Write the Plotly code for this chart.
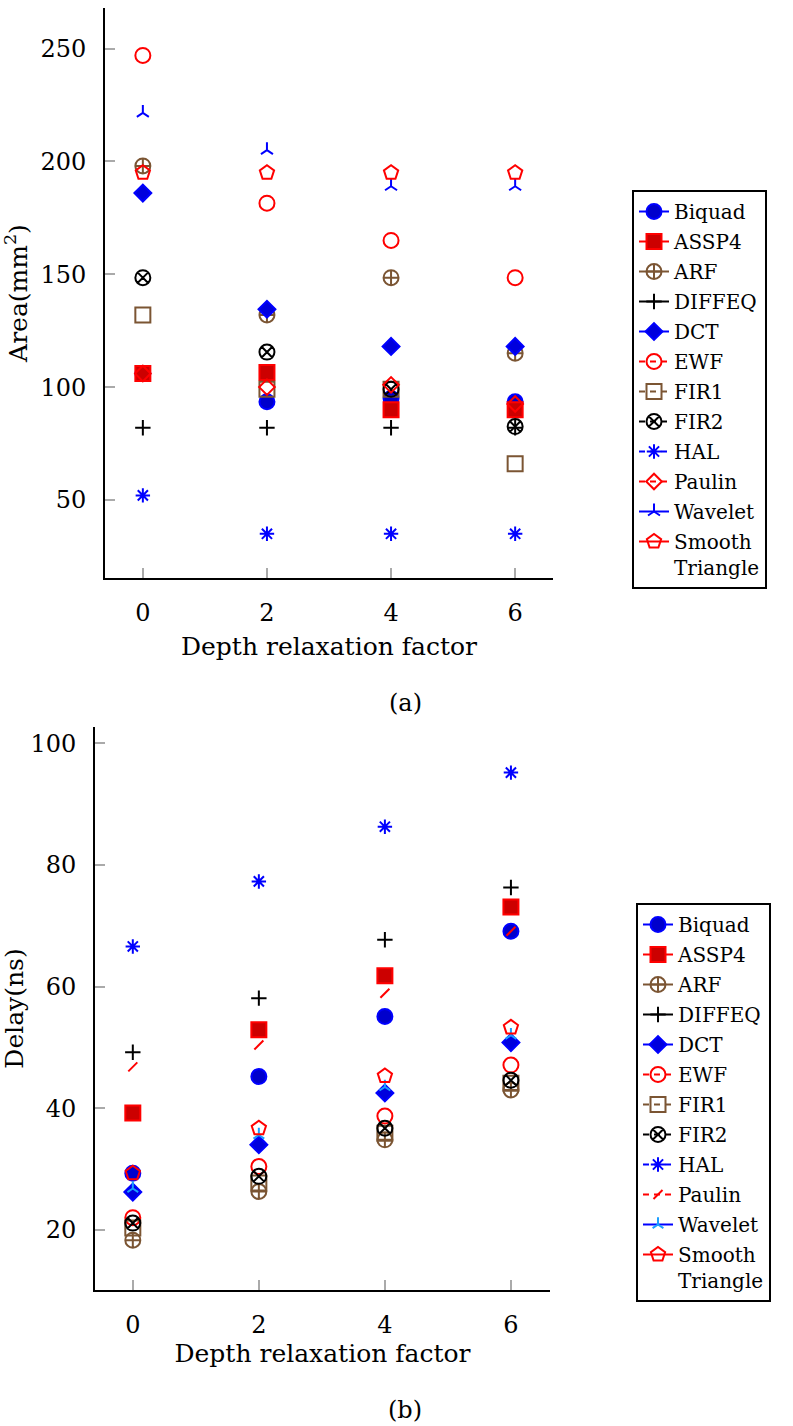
import plotly.graph_objects as go

depth = [0, 2, 4, 6]
series_names = ["Biquad", "ASSP4", "ARF", "DIFFEQ", "DCT", "EWF", "FIR1", "FIR2",
                "HAL", "Paulin", "Wavelet", "Smooth<br>Triangle"]

area_biquad = [106, 93.5, 95, 93.5]
area_assp4 = [106, 106.5, 90, 90]
area_arf = [198, 132, 148.5, 115]
area_diffeq = [82, 82, 82, 82]
area_dct = [186, 134.5, 118, 118]
area_ewf = [247, 181.5, 165, 148.5]
area_fir1 = [132, 99, 99, 66]
area_fir2 = [148.5, 115.5, 99, 82.5]
area_hal = [52, 35, 35, 35]
area_paulin = [106, 100, 101, 92.5]
area_wavelet = [221.5, 205, 189, 189]
area_smooth = [195, 195, 195, 195]

delay_biquad = [29.3, 45.2, 55.1, 69.1]
delay_assp4 = [39.2, 52.9, 61.8, 73.1]
delay_arf = [18.3, 26.3, 34.8, 43.0]
delay_diffeq = [49.2, 58.1, 67.7, 76.3]
delay_dct = [26.2, 34.0, 42.5, 50.8]
delay_ewf = [22.0, 30.4, 38.7, 47.1]
delay_fir1 = [20.3, 27.7, 35.9, 44.1]
delay_fir2 = [21.1, 28.8, 36.7, 44.6]
delay_hal = [66.6, 77.3, 86.3, 95.2]
delay_paulin = [46.8, 50.4, 58.9, 69.1]
delay_wavelet = [26.8, 35.6, 43.5, 52.0]
delay_smooth = [29.3, 36.7, 45.3, 53.3]

area_ticks = [50, 100, 150, 200, 250]
delay_ticks = [20, 40, 60, 80, 100]
depth_ticks = [0, 2, 4, 6]

area_data = [area_biquad, area_assp4, area_arf, area_diffeq, area_dct, area_ewf,
             area_fir1, area_fir2, area_hal, area_paulin, area_wavelet, area_smooth]
delay_data = [delay_biquad, delay_assp4, delay_arf, delay_diffeq, delay_dct, delay_ewf,
              delay_fir1, delay_fir2, delay_hal, delay_paulin, delay_wavelet, delay_smooth]

BLUE = "#0000ff"
RED = "#ff0000"
BROWN = "#7b5533"
BLACK = "#000000"
CYAN = "#1a9fff"

# (line colour, dash, symbol, size, fill colour, marker line colour)
style_top = [
    (BLUE, "solid", "circle", 15, "#0000cc", BLUE),
    (RED, "solid", "square", 15, "#cc0000", RED),
    (BROWN, "solid", "circle-cross-open", 15, None, BROWN),
    (BLACK, "solid", "cross-thin-open", 11, None, BLACK),
    (BLUE, "solid", "diamond", 13, "#0000dd", BLUE),
    (RED, "dash", "circle-open", 15, None, RED),
    (BROWN, "dash", "square-open", 15, None, BROWN),
    (BLACK, "dash", "circle-x-open", 15, None, BLACK),
    (BLUE, "dash", "asterisk-open", 12, None, BLUE),
    (RED, "dash", "diamond-open", 12, None, RED),
    (BLUE, "solid", "y-up-open", 10, None, BLUE),
    (RED, "solid", "pentagon-open", 15, None, RED),
]
style_bottom = list(style_top)
style_bottom[9] = (RED, "dash", "line-ne-open", 9, None, RED)
style_bottom[10] = (BLUE, "solid", "y-up-open", 9, None, CYAN)


def gapped(xs, ys):
    gx, gy = [], []
    for i, (a, b) in enumerate(zip(xs, ys)):
        if i:
            gx.append(None)
            gy.append(None)
        gx.append(a)
        gy.append(b)
    return gx, gy


fig = go.Figure()

for data, styles, xa, ya, leg in [(area_data, style_top, "x", "y", "legend"),
                                  (delay_data, style_bottom, "x2", "y2", "legend2")]:
    for i, (name, vals, st) in enumerate(zip(series_names, data, styles)):
        color, dash, sym, size, fill, mline = st
        gx, gy = gapped(depth, vals)
        marker = dict(symbol=sym, size=size, line=dict(color=mline, width=2))
        marker["color"] = fill if fill is not None else mline
        fig.add_trace(go.Scatter(
            x=gx, y=gy, name=name, mode="lines+markers", connectgaps=False,
            line=dict(color=color, width=2, dash="6px,5px" if dash == "dash" else "solid"),
            marker=marker, xaxis=xa, yaxis=ya, legend=leg,
            legendgroup=f"{leg}_{i}",
        ))

FONT = "DejaVu Serif"
axis_common = dict(showline=True, linecolor="black", linewidth=2, showgrid=False,
                   zeroline=False, ticks="inside", ticklen=10, tickwidth=1.5,
                   tickcolor="#aaaaaa", tickfont=dict(family=FONT, size=24, color="black"),
                   ticklabelstandoff=12)

legend_common = dict(xanchor="left", yanchor="top", bgcolor="white",
                     bordercolor="black", borderwidth=2,
                     font=dict(family=FONT, size=20), traceorder="grouped",
                     tracegroupgap=1, valign="top")

fig.update_layout(
    width=793, height=1426,
    margin=dict(l=0, r=0, t=0, b=0),
    paper_bgcolor="white", plot_bgcolor="white",
    showlegend=True,
    font=dict(family=FONT, color="black"),
    xaxis=dict(domain=[105 / 793, 553 / 793], anchor="y", range=[-0.61, 6.61],
               tickvals=depth_ticks,
               title=dict(text="Depth relaxation factor", font=dict(size=25), standoff=12),
               **axis_common),
    yaxis=dict(domain=[1 - 578 / 1426, 1 - 8 / 1426], anchor="x", range=[15.4, 268],
               tickvals=area_ticks,
               title=dict(text="Area(mm<sup>2</sup>)", font=dict(size=25), standoff=6),
               **axis_common),
    xaxis2=dict(domain=[95 / 793, 550 / 793], anchor="y2", range=[-0.6, 6.62],
                tickvals=depth_ticks,
                title=dict(text="Depth relaxation factor", font=dict(size=25), standoff=6),
                **axis_common),
    yaxis2=dict(domain=[1 - 1290 / 1426, 1 - 727 / 1426], anchor="x2", range=[10.1, 102.7],
                tickvals=delay_ticks,
                title=dict(text="Delay(ns)", font=dict(size=25), standoff=2),
                **axis_common),
    legend=dict(x=632 / 793, y=1 - 190 / 1426, **legend_common),
    legend2=dict(x=636 / 793, y=1 - 903 / 1426, **legend_common),
    annotations=[
        dict(text="(a)", x=405 / 793, y=1 - 703 / 1426, xref="paper", yref="paper",
             xanchor="center", yanchor="middle",
             showarrow=False, font=dict(family=FONT, size=24)),
        dict(text="(b)", x=405 / 793, y=1 - 1410 / 1426, xref="paper", yref="paper",
             xanchor="center", yanchor="middle",
             showarrow=False, font=dict(family=FONT, size=24)),
    ],
)

fig.write_html("out.html")
